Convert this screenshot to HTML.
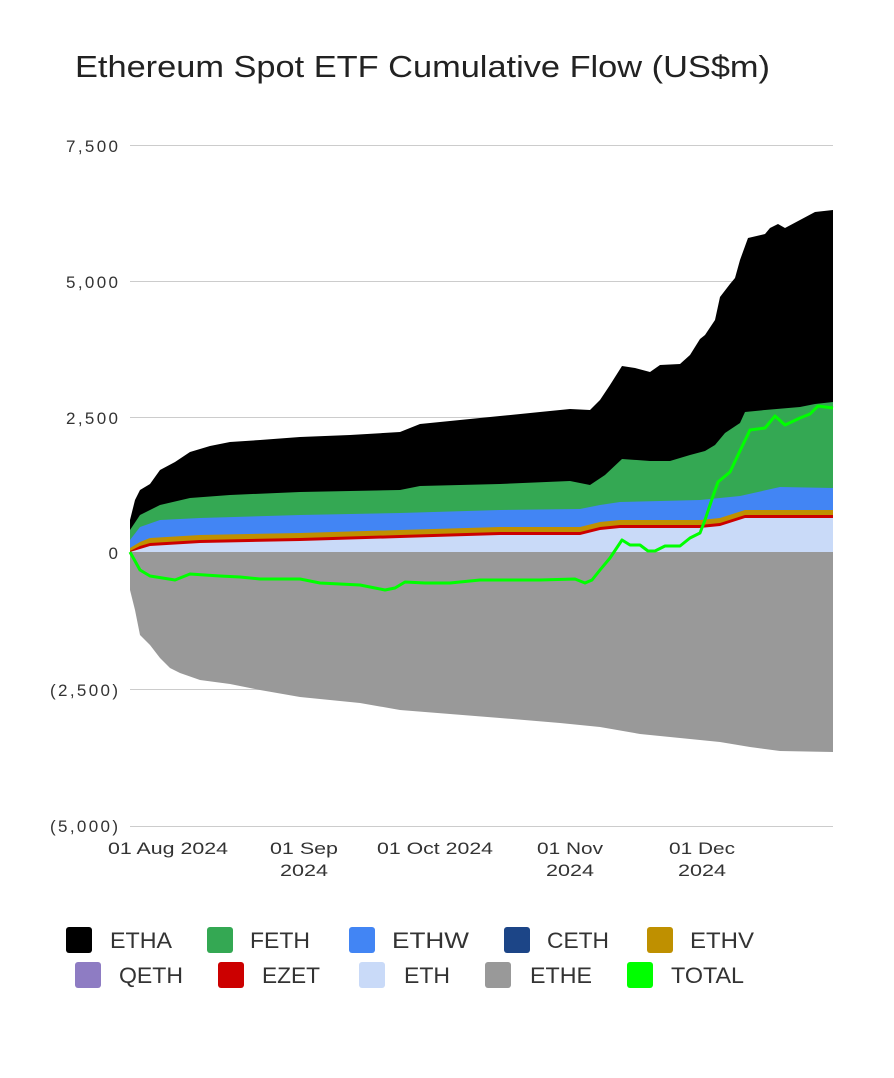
<!DOCTYPE html>
<html><head><meta charset="utf-8"><style>
body{margin:0;background:#fff;width:894px;height:1073px;overflow:hidden;font-family:"Liberation Sans",Arial,sans-serif}
</style></head><body>
<svg width="894" height="1073" viewBox="0 0 894 1073" xmlns="http://www.w3.org/2000/svg" font-family="Liberation Sans, Arial, sans-serif">
<text x="75" y="77" font-size="31" fill="#222" textLength="695" lengthAdjust="spacingAndGlyphs">Ethereum Spot ETF Cumulative Flow (US$m)</text>
<g stroke="#ccc" stroke-width="1">
<line x1="130" y1="145.5" x2="833" y2="145.5"/><line x1="130" y1="281.5" x2="833" y2="281.5"/>
<line x1="130" y1="417.5" x2="833" y2="417.5"/><line x1="130" y1="689.5" x2="833" y2="689.5"/>
<line x1="130" y1="826.5" x2="833" y2="826.5"/>
</g>
<g font-size="17" fill="#333" text-anchor="end" lengthAdjust="spacingAndGlyphs">
<text x="118" y="152" textLength="52">7,500</text><text x="118" y="288" textLength="52">5,000</text><text x="118" y="424" textLength="52">2,500</text>
<text x="118" y="559">0</text><text x="118" y="696" textLength="68">(2,500)</text><text x="118" y="832" textLength="68">(5,000)</text>
</g>
<g font-size="17" fill="#333" text-anchor="middle">
<text x="168" y="854" textLength="120" lengthAdjust="spacingAndGlyphs">01 Aug 2024</text>
<text x="304" y="854" textLength="68" lengthAdjust="spacingAndGlyphs">01 Sep</text><text x="304" y="876" textLength="48" lengthAdjust="spacingAndGlyphs">2024</text>
<text x="435" y="854" textLength="116" lengthAdjust="spacingAndGlyphs">01 Oct 2024</text>
<text x="570" y="854" textLength="66" lengthAdjust="spacingAndGlyphs">01 Nov</text><text x="570" y="876" textLength="48" lengthAdjust="spacingAndGlyphs">2024</text>
<text x="702" y="854" textLength="66" lengthAdjust="spacingAndGlyphs">01 Dec</text><text x="702" y="876" textLength="48" lengthAdjust="spacingAndGlyphs">2024</text>
</g>
<polygon fill="#999" points="130,552 130,590 135,610 140,635 150,645 160,658 170,668 180,673 200,680 230,684 260,690 300,697 330,700 360,703 400,710 450,714 500,718 560,723 600,727 640,734 680,738 720,742 750,747 780,751 833,752 833,552"/>
<polygon fill="#000" points="130,552 130,520 135,500 140,490 150,484 160,470 175,462 190,452 210,446 230,442 260,440 300,437 350,435 400,432 420,424 450,421 500,416 540,412 570,409 590,410 600,400 610,385 622,366 635,368 650,372 660,365 680,364 690,355 700,339 705,335 715,320 720,297 730,284 735,278 740,260 748,238 765,234 770,228 778,224 785,228 800,220 815,212 833,210 833,552"/>
<polygon fill="#34a853" points="130,552 130,530 140,515 160,505 190,498 230,495 300,492 400,490 420,486 500,484 570,481 590,485 605,475 622,459 650,461 670,461 690,455 705,451 715,445 725,433 740,423 745,412 765,410 800,407 815,404 833,402 833,552"/>
<polygon fill="#4285f4" points="130,552 130,540 140,527 160,520 200,518 300,515 400,513 500,510 580,509 600,505 620,502 700,500 740,496 780,487 833,488 833,552"/>
<polygon fill="#bf9000" points="130,552 130,548 140,542 150,538 200,535 300,533 400,530 500,527 580,527 600,522 620,520 700,520 720,518 745,510 833,510 833,552"/>
<polygon fill="#cc0000" points="130,552 130,551 140,546 150,543 200,540 300,538 400,535 500,532 580,532 600,527 620,525 700,525 720,523 745,515 833,515 833,552"/>
<polygon fill="#c9daf8" points="130,552 140,549 150,546 200,543 300,541 400,538 500,535 580,535 600,530 620,528 700,528 720,526 745,518 833,518 833,552"/>
<polyline fill="none" stroke="#00ff00" stroke-width="3" stroke-linejoin="round" points="130,552 140,570 150,576 175,580 190,574 220,576 240,577 260,579 300,579 320,583 360,585 375,588 385,590 395,588 405,582 425,583 450,583 480,580 500,580 540,580 575,579 585,583 592,580 600,570 610,558 622,540 630,545 640,545 648,551 655,551 665,546 680,546 690,538 700,533 705,520 713,496 718,482 730,472 738,455 750,430 765,428 770,422 775,416 785,425 800,418 810,414 818,406 833,408"/>
<g font-size="22" fill="#333" lengthAdjust="spacingAndGlyphs">
<rect x="66" y="927" width="26" height="26" rx="3" fill="#000"/><text x="110" y="948" textLength="62" lengthAdjust="spacingAndGlyphs">ETHA</text>
<rect x="207" y="927" width="26" height="26" rx="3" fill="#34a853"/><text x="250" y="948" textLength="60" lengthAdjust="spacingAndGlyphs">FETH</text>
<rect x="349" y="927" width="26" height="26" rx="3" fill="#4285f4"/><text x="392" y="948" textLength="77" lengthAdjust="spacingAndGlyphs">ETHW</text>
<rect x="504" y="927" width="26" height="26" rx="3" fill="#1c4587"/><text x="547" y="948" textLength="62" lengthAdjust="spacingAndGlyphs">CETH</text>
<rect x="647" y="927" width="26" height="26" rx="3" fill="#bf9000"/><text x="690" y="948" textLength="64" lengthAdjust="spacingAndGlyphs">ETHV</text>
<rect x="75" y="962" width="26" height="26" rx="3" fill="#8e7cc3"/><text x="119" y="983" textLength="64" lengthAdjust="spacingAndGlyphs">QETH</text>
<rect x="218" y="962" width="26" height="26" rx="3" fill="#cc0000"/><text x="262" y="983" textLength="58" lengthAdjust="spacingAndGlyphs">EZET</text>
<rect x="359" y="962" width="26" height="26" rx="3" fill="#c9daf8"/><text x="404" y="983" textLength="46" lengthAdjust="spacingAndGlyphs">ETH</text>
<rect x="485" y="962" width="26" height="26" rx="3" fill="#999"/><text x="530" y="983" textLength="62" lengthAdjust="spacingAndGlyphs">ETHE</text>
<rect x="627" y="962" width="26" height="26" rx="3" fill="#00ff00"/><text x="671" y="983" textLength="73" lengthAdjust="spacingAndGlyphs">TOTAL</text>
</g>
</svg>
</body></html>
